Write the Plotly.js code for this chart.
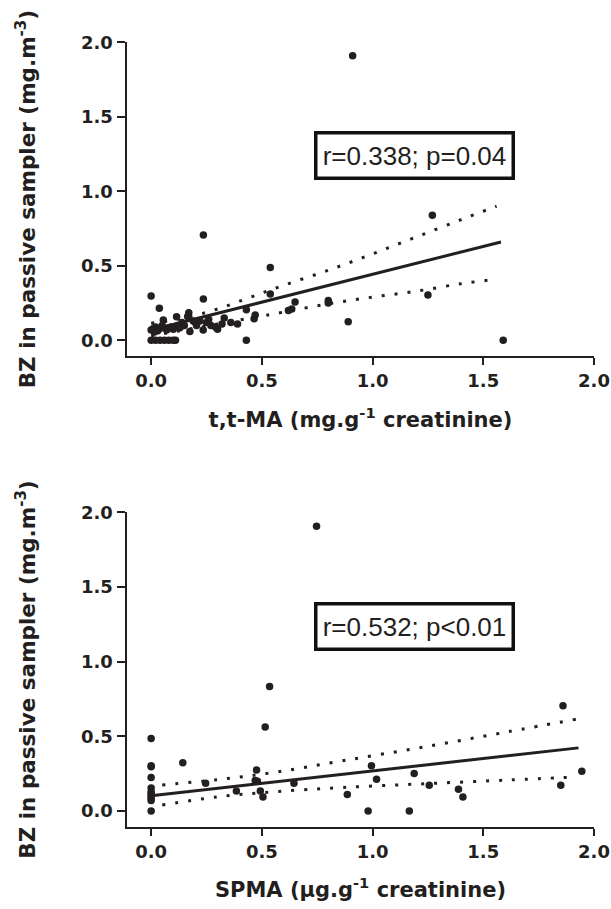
<!DOCTYPE html>
<html>
<head>
<meta charset="utf-8">
<script src="https://cdn.plot.ly/plotly-3.0.1.min.js"></script>
<style>html,body{margin:0;padding:0;background:#fff;}#chart{width:611px;height:909px;}</style>
</head>
<body>
<div id="chart"></div>
<script>
// ---- Data ----
// Panel A: t,t-MA vs BZ
const ttmaX = [0.91,1.27,0.236,0.538,0.0,0.037,0.236,0.538,1.25,0.89,0.43,1.59,0.65,0.8,0.8,0.62,0.635,0.465,0.47,0.43,0.36,0.39,0.3,0.27,0.22,0.2,0.17,0.165,0.33,0.29,0.0,0.02,0.04,0.06,0.08,0.1,0.11,0.0,0.015,0.02,0.04,0.05,0.07,0.09,0.1,0.12,0.13,0.055,0.115,0.175,0.235,0.205,0.25,0.14,0.15,0.19,0.26,0.32,0.01,0.03,0.08];
const ttmaY = [1.91,0.84,0.707,0.488,0.298,0.215,0.277,0.31,0.304,0.125,0.0,0.0,0.257,0.268,0.25,0.2,0.21,0.145,0.17,0.205,0.12,0.11,0.075,0.1,0.13,0.12,0.185,0.16,0.15,0.09,0.0,0.0,0.0,0.0,0.0,0.0,0.0,0.07,0.055,0.09,0.08,0.1,0.07,0.09,0.075,0.1,0.085,0.136,0.158,0.06,0.07,0.1,0.12,0.12,0.1,0.13,0.14,0.11,0.08,0.065,0.085];
const ttmaFitX = [0.0, 1.58];
const ttmaFitY = [0.069, 0.66];
const ttmaBandX = [0.0, 0.15, 0.3, 0.45, 0.6, 0.8, 1.0, 1.2, 1.4, 1.56];
const ttmaUpper = [0.115, 0.15, 0.21, 0.29, 0.37, 0.47, 0.58, 0.695, 0.81, 0.9];
const ttmaLower = [0.03, 0.07, 0.11, 0.15, 0.19, 0.245, 0.29, 0.33, 0.38, 0.41];

// Panel B: SPMA vs BZ
const spmaX = [0.747,0.535,0.515,1.86,0,0,0,0.143,0,0,0,0,0,0,0,0,0.246,0.385,0.476,0.47,0.48,0.493,0.505,0.645,0.886,0.995,1.018,0.98,1.166,1.188,1.256,1.388,1.408,1.85,1.945];
const spmaY = [1.906,0.834,0.562,0.705,0.486,0.304,0.296,0.324,0.224,0.155,0.13,0.115,0.1,0.085,0.07,0.0,0.186,0.135,0.275,0.205,0.2,0.134,0.094,0.186,0.11,0.304,0.213,0.0,0.0,0.252,0.172,0.146,0.094,0.172,0.266];
const spmaFitX = [0.0, 1.93];
const spmaFitY = [0.103, 0.423];
const spmaBandX = [0.05, 0.3, 0.56, 0.87, 1.24, 1.616, 1.92];
const spmaUpper = [0.175, 0.21, 0.26, 0.338, 0.431, 0.532, 0.615];
const spmaLower = [0.04, 0.095, 0.13, 0.158, 0.183, 0.208, 0.228];

const tickVals = [0, 0.5, 1.0, 1.5, 2.0];
const tickText = ["0.0", "0.5", "1.0", "1.5", "2.0"];

const titleX1 = "t,t-MA (mg.g<sup>-1</sup> creatinine)";
const titleX2 = "SPMA (μg.g<sup>-1</sup> creatinine)";
const titleY = "BZ in passive sampler (mg.m<sup>-3</sup>)";
const stat1 = "r=0.338; p=0.04";
const stat2 = "r=0.532; p<0.01";

// ---- Styles ----
const ink = '#231f20';
const mk = {color: ink, size: 7.5};
const fitLine = {color: ink, width: 3};
const bandLine = {color: ink, width: 3, dash: '3px,10px', shape: 'spline'};

const traces = [
  {x: ttmaBandX, y: ttmaUpper, xaxis: 'x', yaxis: 'y', mode: 'lines', line: bandLine, hoverinfo: 'skip'},
  {x: ttmaBandX, y: ttmaLower, xaxis: 'x', yaxis: 'y', mode: 'lines', line: bandLine, hoverinfo: 'skip'},
  {x: ttmaFitX, y: ttmaFitY, xaxis: 'x', yaxis: 'y', mode: 'lines', line: fitLine},
  {x: ttmaX, y: ttmaY, xaxis: 'x', yaxis: 'y', mode: 'markers', marker: mk},
  {x: spmaBandX, y: spmaUpper, xaxis: 'x2', yaxis: 'y2', mode: 'lines', line: bandLine, hoverinfo: 'skip'},
  {x: spmaBandX, y: spmaLower, xaxis: 'x2', yaxis: 'y2', mode: 'lines', line: bandLine, hoverinfo: 'skip'},
  {x: spmaFitX, y: spmaFitY, xaxis: 'x2', yaxis: 'y2', mode: 'lines', line: fitLine},
  {x: spmaX, y: spmaY, xaxis: 'x2', yaxis: 'y2', mode: 'markers', marker: mk}
];

const tickFont = {family: 'DejaVu Sans', size: 18, color: ink, weight: 'bold'};
const xTitleFont = {family: 'DejaVu Sans', size: 21, color: ink, weight: 'bold'};
const yTitleFont = {family: 'DejaVu Sans', size: 21.5, color: ink, weight: 'bold'};

function xAx(anchor, title) {
  return {
    anchor: anchor, domain: [0, 1], range: [-0.109, 2.0], fixedrange: true,
    tickvals: tickVals, ticktext: tickText, ticks: 'outside', ticklen: 7, tickwidth: 2, tickcolor: ink,
    showline: true, linewidth: 2.5, linecolor: ink, showgrid: false, zeroline: false,
    tickfont: tickFont, title: {text: title, font: xTitleFont, standoff: 22}
  };
}
function yAx(anchor, domain) {
  return {
    anchor: anchor, domain: domain, range: [-0.105, 2.0], fixedrange: true,
    tickvals: tickVals, ticktext: tickText, ticks: 'outside', ticklen: 8, tickwidth: 2, tickcolor: ink,
    showline: true, linewidth: 2.5, linecolor: ink, showgrid: false, zeroline: false,
    tickfont: tickFont, title: {text: titleY, font: yTitleFont, standoff: 40}
  };
}

function statBox(xref, yref, x, y, text) {
  return {
    xref: xref, yref: yref, x: x, y: y, xanchor: 'center', yanchor: 'middle', text: text, showarrow: false,
    font: {family: 'Liberation Sans, Arial', size: 26, color: ink},
    bordercolor: '#111', borderwidth: 3.5, borderpad: 2, bgcolor: '#fff', width: 190, height: 38
  };
}

const layout = {
  width: 611, height: 909,
  margin: {l: 127, r: 17, t: 0, b: 0},
  paper_bgcolor: '#fff', plot_bgcolor: '#fff',
  showlegend: false,
  xaxis: xAx('y', titleX1),
  yaxis: yAx('x', [0.6084, 0.9535]),
  xaxis2: xAx('y2', titleX2),
  yaxis2: yAx('x2', [0.0905, 0.4364]),
  annotations: [
    statBox('x', 'y', 1.19, 1.24, stat1),
    statBox('x2', 'y2', 1.19, 1.237, stat2)
  ]
};

Plotly.newPlot('chart', traces, layout, {displayModeBar: false, staticPlot: true});
</script>
</body>
</html>
